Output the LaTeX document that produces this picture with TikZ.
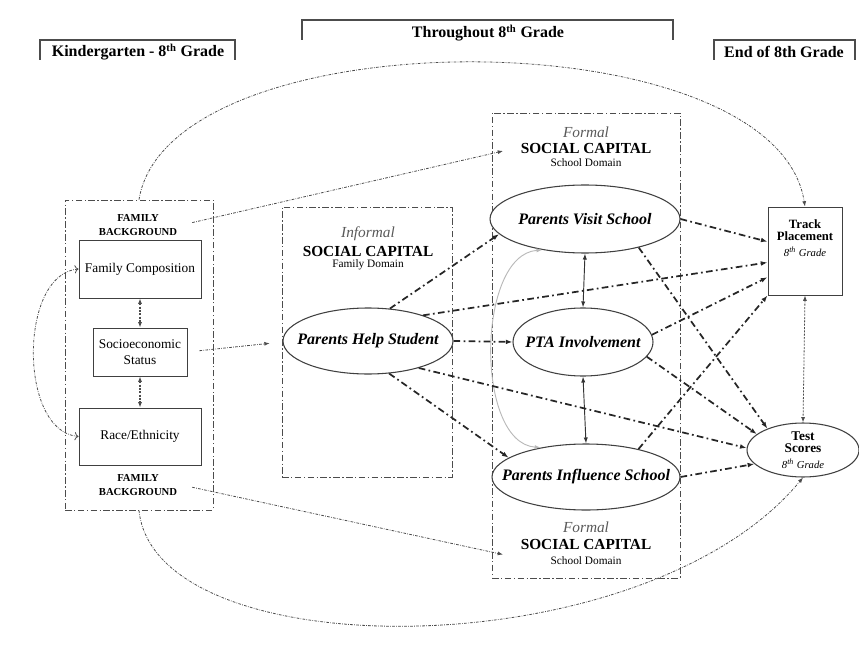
\documentclass[tikz,border=0pt]{standalone}
\usepackage{fontspec}
\setmainfont{Liberation Serif}
\usetikzlibrary{shapes.geometric,arrows.meta}

\newcommand\grd{\fontsize{8}{9}\selectfont\mdseries\itshape}

\begin{document}
\begin{tikzpicture}[x=0.75pt, y=-0.75pt,
  bracket/.style={draw=gray!60!black, line width=0.8pt},
  hdr/.style={font=\fontsize{12}{14}\selectfont\bfseries},
  grp/.style={rectangle, draw=gray!60!black, line width=0.6pt,
    dash pattern=on 5pt off 1.8pt on 1pt off 1.8pt},
  fbl/.style={font=\fontsize{8}{10.5}\selectfont\bfseries, align=center},
  var/.style={rectangle, draw=gray!50!black, line width=0.7pt,
    font=\fontsize{10}{11.5}\selectfont, align=center},
  oval/.style={ellipse, draw=gray!50!black, line width=0.8pt, fill=white,
    inner xsep=-18pt, inner ysep=-4pt, align=center,
    font=\fontsize{12}{14}\selectfont\bfseries\itshape},
  outtxt/.style={font=\fontsize{9.5}{9}\selectfont\bfseries, align=center},
  modetxt/.style={font=\fontsize{11.5}{13}\selectfont\itshape, text=gray!70!black},
  captxt/.style={font=\fontsize{11.5}{13}\selectfont\bfseries},
  domtxt/.style={font=\fontsize{8.5}{10}\selectfont},
  eff/.style={-{Latex[length=5pt,width=3.6pt]}, line width=1.3pt, draw=black!85,
    dash pattern=on 5pt off 2.5pt on 1.3pt off 2.5pt},
  ctl/.style={-{Latex[length=4pt,width=3pt]}, line width=0.6pt, draw=gray!60!black,
    dash pattern=on 2pt off 1pt on 0.5pt off 1pt},
  assoc/.style={{Latex[length=4pt,width=3pt]}-{Latex[length=4pt,width=3pt]},
    line width=0.8pt, draw=gray!60!black, dash pattern=on 1.5pt off 1pt},
  link/.style={{Latex[length=4.5pt,width=3.2pt]}-{Latex[length=4.5pt,width=3.2pt]},
    line width=0.7pt, draw=gray!40!black}
]
  \useasboundingbox (0,0) rectangle (859,652);

  % time frames
  \draw[bracket] (40,60) |- (235,40) -- (235,60);
  \node[hdr] (kg) at (138,52) {Kindergarten - 8\textsuperscript{th} Grade};
  \draw[bracket] (302,40) |- (673,20) -- (673,40);
  \node[hdr] (thru) at (488,33) {Throughout 8\textsuperscript{th} Grade};
  \draw[bracket] (714,60) |- (855,40) -- (855,60);
  \node[hdr] (eog) at (784,52) {End of 8th Grade};

  % groups
  \node[grp, minimum width=111pt, minimum height=232.5pt] (fam) at (139,355) {};
  \node[grp, minimum width=127.5pt, minimum height=202.5pt] (inf) at (367,342) {};
  \node[grp, minimum width=141pt, minimum height=348.75pt] (frm) at (586,345.5) {};

  % family background
  \node[fbl] (fbtop) at (138,225) {FAMILY\\BACKGROUND};
  \node[fbl] (fbbot) at (138,485) {FAMILY\\BACKGROUND};
  \node[var, minimum width=91.5pt, minimum height=43.5pt] (fc) at (140,269) {Family Composition};
  \node[var, minimum width=70.5pt, minimum height=36pt] (ses) at (140,352) {Socioeconomic\\Status};
  \node[var, minimum width=91.5pt, minimum height=42.75pt] (re) at (140,436.5) {Race/Ethnicity};

  % informal social capital
  \node[modetxt] (infmode) at (368,234) {Informal};
  \node[captxt] (infcap) at (368,251) {SOCIAL CAPITAL};
  \node[domtxt] (infdom) at (368,265) {Family Domain};
  \node[oval, minimum width=127.5pt, minimum height=49.5pt] (phs) at (368,341) {Parents Help Student};

  % formal social capital
  \node[modetxt] (frmmodetop) at (586,132) {Formal};
  \node[captxt] (frmcaptop) at (586,148) {SOCIAL CAPITAL};
  \node[domtxt] (frmdomtop) at (586,163) {School Domain};
  \node[modetxt] (frmmodebot) at (586,527) {Formal};
  \node[captxt] (frmcapbot) at (586,544) {SOCIAL CAPITAL};
  \node[domtxt] (frmdombot) at (586,561) {School Domain};
  \node[oval, minimum width=142.5pt, minimum height=51pt] (visit) at (585,219) {Parents Visit School};
  \node[oval, minimum width=105pt, minimum height=51pt] (pta) at (583,342) {PTA Involvement};
  \node[oval, minimum width=141pt, minimum height=49.5pt] (infl) at (586,477) {Parents Influence School};

  % outcomes
  \node[var, minimum width=55.5pt, minimum height=66pt,
    label={[outtxt, anchor=north, yshift=-6pt]north:{Track\\Placement\\[3pt]{\grd 8\textsuperscript{th} Grade}}}]
    (track) at (805,251) {};
  \node[oval, minimum width=84pt, minimum height=40.5pt, inner xsep=0pt,
    font=\fontsize{10}{9.5}\selectfont\bfseries] (test) at (803,450)
    {Test\\Scores\\[2pt]{\grd 8\textsuperscript{th} Grade}};

  % background links
  \draw[ctl] (fam.north) .. controls +(30,-184) and +(-30,-191) .. (track.north);
  \draw[ctl] (fam.south) .. controls +(16,159) and +(-159,192) .. (test.south);
  \draw[ctl, shorten <=8pt, shorten >=10pt] (fbtop.east) -- (frmcaptop.west);
  \draw[ctl, shorten <=8pt, shorten >=10pt] (fbbot.east) -- ([yshift=-10pt]frmcapbot.west);
  \draw[ctl, shorten <=9pt, shorten >=9pt] (ses.east) -- (inf.west);
  \draw[ctl, <->] (fc.west) .. controls +(-60,5) and +(-60,-5) .. (re.west);
  \draw[assoc] (fc.south) -- (ses.north);
  \draw[assoc] (ses.south) -- (re.north);
  \draw[assoc, line width=0.6pt] (track.south) -- (test.north);

  % within formal capital
  \draw[link] (visit.south) -- (pta.north);
  \draw[link] (pta.south) -- (infl.north);
  \draw[link, draw=gray!55] (visit.216) .. controls +(-66,5) and +(-66,-5) .. (infl.147);

  % effects
  \draw[eff] (phs.56) -- (visit.190);
  \draw[eff] (phs.25) -- (track.197);
  \draw[eff] (phs.east) -- (pta.west);
  \draw[eff] (phs.332) -- (test.178);
  \draw[eff] (phs.303) -- (infl.166);
  \draw[eff] (visit.east) -- (track.166);
  \draw[eff] (visit.332) -- (test.149);
  \draw[eff] (pta.6) -- (track.215);
  \draw[eff] (pta.347) -- (test.161);
  \draw[eff] (infl.28) -- (track.south west);
  \draw[eff] (infl.east) -- (test.196);
\end{tikzpicture}
\end{document}
